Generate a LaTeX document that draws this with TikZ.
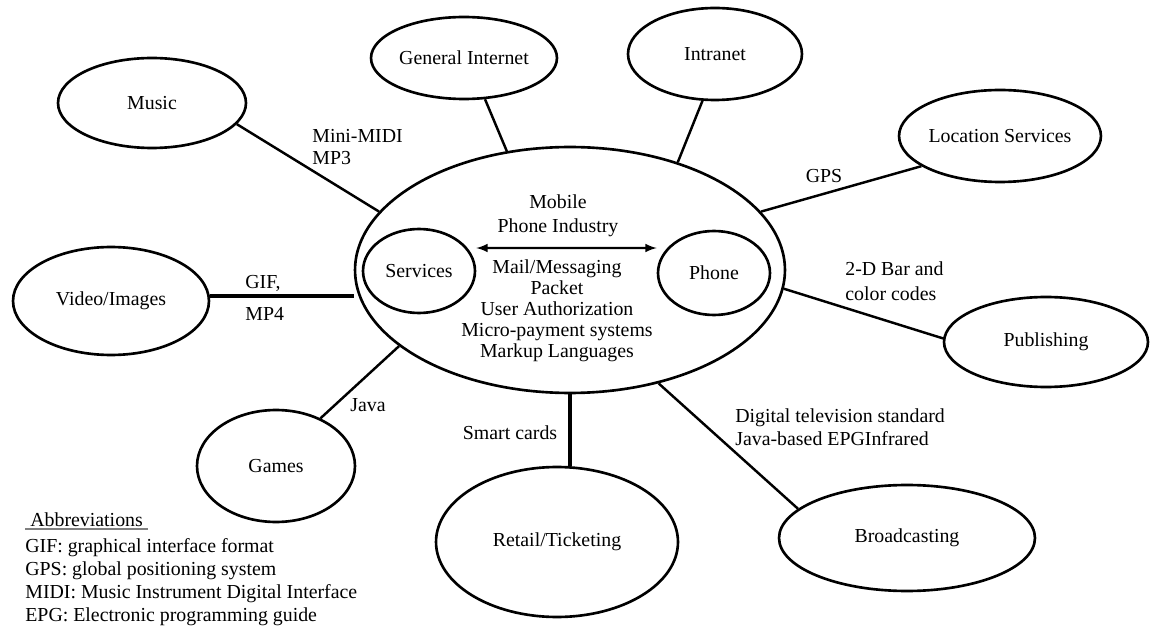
\documentclass[tikz,border=0pt]{standalone}
\usepackage{fontspec}
\setmainfont{Liberation Serif}
\usetikzlibrary{arrows}
\usetikzlibrary{shapes.geometric}

\begin{document}
\begin{tikzpicture}[
  x=0.02cm, y=-0.02cm,
  font=\fontsize{11.3}{12.5}\selectfont,
  blob/.style={draw, ellipse, line width=1.5pt, inner sep=0pt},
  link/.style={line width=1.4pt},
  heavy/.style={line width=2.6pt},
  tag/.style={align=left, anchor=west, inner sep=0pt}
]

\useasboundingbox (0,0) rectangle (1150,628);

% the hub and what sits inside it
\node [blob, minimum width=8.6cm, minimum height=4.92cm] (hub) at (570,270) {};
\node [blob, minimum width=2.24cm, minimum height=1.68cm] (services) at (419,271) {Services};
\node [blob, minimum width=2.24cm, minimum height=1.68cm] (phone) at (714,273) {Phone};
\node [align=center, inner sep=0pt, font=\fontsize{11.3}{13.6}\selectfont] (industry) at (558,216) {Mobile\\Phone Industry};
\node [align=center, inner sep=0pt, font=\fontsize{11.3}{12}\selectfont] (apps) at (557,311)
  {Mail/Messaging\\Packet\\User Authorization\\Micro-payment systems\\Markup Languages};
\draw [<->, >=latex, line width=1.2pt] ([yshift=0.46cm]services.east) -- ([yshift=0.5cm]phone.west);

% outer bubbles
\node [blob, minimum width=3.76cm, minimum height=1.8cm] (music) at (152,103) {Music};
\node [blob, minimum width=3.72cm, minimum height=1.64cm] (internet) at (464,58) {General Internet};
\node [blob, minimum width=3.48cm, minimum height=1.84cm] (intranet) at (715,54) {Intranet};
\node [blob, minimum width=3.72cm, minimum height=1.84cm] (location) at (1000,136) {Location Services};
\node [blob, minimum width=4.08cm, minimum height=1.8cm] (publishing) at (1046,342) {Publishing};
\node [blob, minimum width=5.12cm, minimum height=2.12cm] (broadcast) at (907,538) {Broadcasting};
\node [blob, minimum width=4.84cm, minimum height=3.0cm] (retail) at (557,542) {Retail/Ticketing};
\node [blob, minimum width=3.16cm, minimum height=2.24cm] (games) at (276,466) {Games};
\node [blob, minimum width=3.92cm, minimum height=2.16cm] (video) at (111,301) {Video/Images};

% spokes
\draw [link] (music.-14) -- (hub.163);
\draw [link] (internet.-63) -- (hub.118);
\draw [link] (intranet.-105) -- (hub.45);
\draw [link] (location.201) -- (hub.17);
\draw [link] (publishing.178) -- (hub.-5);
\draw [link] (broadcast.165) -- (hub.-52);
\draw [link] (games.47) -- (hub.-156);
\draw [heavy] (video.3) -- (video.3 -| hub.west);
\draw [heavy] (hub.south) -- (hub.south |- retail.north);

% spoke labels
\node [tag, font=\fontsize{11.3}{12}\selectfont] (midi) at (312,147) {Mini-MIDI\\MP3};
\node [tag] (gif) at (245,283) {GIF,};
\node [tag] (mp4) at (245,314) {MP4};
\node [tag] (java) at (350,405) {Java};
\node [inner sep=0pt] (smart) at (510,433) {Smart cards};
\node [tag, font=\fontsize{11.3}{13}\selectfont] (dtv) at (735,427) {Digital television standard\\Java-based EPGInfrared};
\node [tag, font=\fontsize{11.3}{14}\selectfont] (barcode) at (845,281) {2-D Bar and\\color codes};
\node [inner sep=0pt] (gps) at (824,176) {GPS};

% abbreviations
\node [anchor=west, inner xsep=0.1cm, inner ysep=1pt] (abbrev) at (25,520) {Abbreviations};
\draw [gray, line width=0.8pt] (abbrev.south west) -- (abbrev.south east);
\node [tag, font=\fontsize{11.3}{13.2}\selectfont] (abbrlist) at (25,582)
  {GIF: graphical interface format\\GPS: global positioning system\\MIDI: Music Instrument Digital Interface\\EPG: Electronic programming guide};

\end{tikzpicture}
\end{document}
